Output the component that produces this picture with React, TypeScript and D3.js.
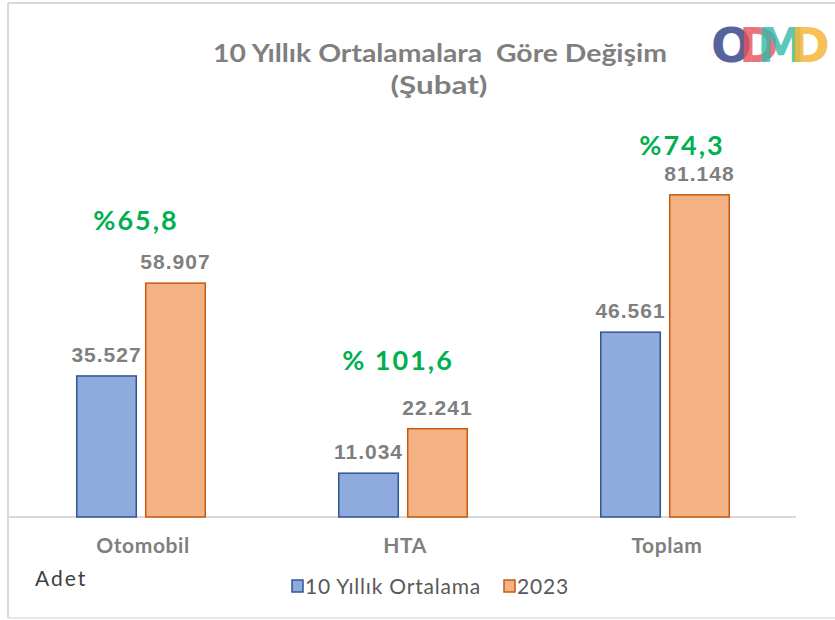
import React from "react";
import * as d3 from "d3";

const categories = ["Otomobil", "HTA", "Toplam"];
const seriesNames = ["10 Yıllık Ortalama", "2023"];
const avgValues = [35527, 11034, 46561];
const values2023 = [58907, 22241, 81148];
const valueLabelsAvg = ["35.527", "11.034", "46.561"];
const valueLabels2023 = ["58.907", "22.241", "81.148"];
const pctLabels = ["%65,8", "% 101,6", "%74,3"];
const pctOffsets = [53, 59, 40];

const W = 835;
const H = 620;
const baseY = 517;
const fills = ["#8faadc", "#f4b183"];
const strokes = ["#2f5597", "#c55a11"];
const GOTHIC = "'Century Gothic', 'URW Gothic', Lato, 'DejaVu Sans', sans-serif";
const ARIAL = "'Liberation Sans', Arial, sans-serif";

export default function App() {
  const x0 = d3.scaleBand<string>().domain(categories).range([10, 796]).padding(0);
  const step = x0.step();
  const x1 = d3
    .scaleBand<string>()
    .domain(seriesNames)
    .range([step / 2 - 65, step / 2 + 65])
    .paddingInner(0.115);
  const y = d3.scaleLinear().domain([0, 100000]).range([baseY, baseY - 397]);
  const seriesVals = [avgValues, values2023];
  const seriesLbls = [valueLabelsAvg, valueLabels2023];

  return (
    <svg width={W} height={H} style={{ position: "absolute", left: 0, top: 0, background: "#fff" }}>
      {/* frame */}
      <line x1={8} y1={3} x2={835} y2={3} stroke="#d9d9d9" strokeWidth={2} />
      <line x1={8} y1={3} x2={8} y2={618} stroke="#d9d9d9" strokeWidth={2} />
      <line x1={8} y1={618} x2={835} y2={618} stroke="#e6e6e6" strokeWidth={2} />

      {/* title */}
      <text x={440} y={62} textAnchor="middle" fontFamily={GOTHIC} fontWeight="bold" fontSize={24} fill="#7f7f7f" textLength={454} lengthAdjust="spacingAndGlyphs" style={{ whiteSpace: "pre" }}>
        10 Yıllık Ortalamalara  Göre Değişim
      </text>
      <text x={439} y={94} textAnchor="middle" fontFamily={GOTHIC} fontWeight="bold" fontSize={24} fill="#7f7f7f" textLength={97} lengthAdjust="spacingAndGlyphs">
        (Şubat)
      </text>

      {/* logo */}
      <g fontFamily="'DejaVu Sans', sans-serif" fontWeight="bold" fontSize={48}>
        <text x={711} y={62} fill="#4e5b98" opacity={0.95}>O</text>
        <text x={739} y={62} fill="#e8505b" opacity={0.8}>D</text>
        <text x={757} y={62} fill="#33bba8" opacity={0.8}>M</text>
        <text x={790} y={62} fill="#f6b73c" opacity={0.85}>D</text>
      </g>

      {/* axis line */}
      <line x1={8} y1={baseY} x2={796} y2={baseY} stroke="#d9d9d9" strokeWidth={2} />

      {categories.map((c, i) => {
        const gx = x0(c)!;
        return (
          <g key={c}>
            {seriesNames.map((s, j) => {
              const v = seriesVals[j][i];
              const bx = gx + x1(s)!;
              const bw = x1.bandwidth();
              return (
                <g key={s}>
                  <rect x={bx + 0.75} y={y(v)} width={bw - 1.5} height={baseY - y(v)} fill={fills[j]} stroke={strokes[j]} strokeWidth={1.5} />
                  <text x={bx + bw / 2} y={y(v) - 14} textAnchor="middle" fontFamily={ARIAL} fontWeight="bold" fontSize={21} letterSpacing={1} fill="#7f7f7f">
                    {seriesLbls[j][i]}
                  </text>
                </g>
              );
            })}
            <text
              x={gx + step / 2 - 5 + (i === 2 ? 22 : 0)}
              y={y(values2023[i]) - pctOffsets[i]}
              textAnchor="middle"
              fontFamily={GOTHIC}
              fontWeight="bold"
              fontSize={27}
              letterSpacing={2}
              fill="#00b050"
              style={{ whiteSpace: "pre" }}
            >
              {pctLabels[i]}
            </text>
            <text x={gx + step / 2 + 2} y={553} textAnchor="middle" fontFamily={GOTHIC} fontWeight="bold" fontSize={21} letterSpacing={0.6} fill="#7f7f7f">
              {c}
            </text>
          </g>
        );
      })}

      <text x={35} y={586} fontFamily={GOTHIC} fontSize={21} letterSpacing={2} fill="#404040">Adet</text>

      {/* legend */}
      <g fontFamily={GOTHIC} fontSize={21} letterSpacing={0.8} fill="#595959">
        <rect x={292} y={580} width={11} height={12} fill={fills[0]} stroke={strokes[0]} strokeWidth={1.5} />
        <text x={305} y={594}>{seriesNames[0]}</text>
        <rect x={504} y={580} width={11} height={12} fill={fills[1]} stroke={strokes[1]} strokeWidth={1.5} />
        <text x={517} y={594}>{seriesNames[1]}</text>
      </g>
    </svg>
  );
}
